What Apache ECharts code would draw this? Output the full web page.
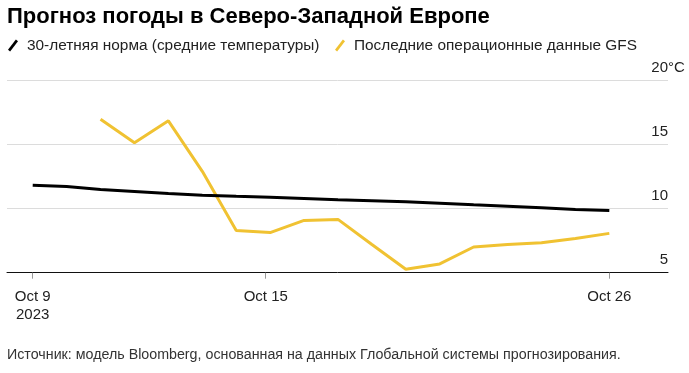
<!DOCTYPE html>
<html>
<head>
<meta charset="utf-8">
<script src="https://cdn.jsdelivr.net/npm/echarts@6/dist/echarts.min.js"></script>
<style>
html,body{margin:0;padding:0;background:#fff;}
#chart{width:689px;height:373px;}
</style>
</head>
<body>
<div id="chart"></div>
<script>
// ---- data ----
const dates = ['Oct 9','Oct 10','Oct 11','Oct 12','Oct 13','Oct 14','Oct 15','Oct 16','Oct 17',
  'Oct 18','Oct 19','Oct 20','Oct 21','Oct 22','Oct 23','Oct 24','Oct 25','Oct 26'];
const normalTemps = [11.81, 11.71, 11.47, 11.32, 11.16, 11.03, 10.95, 10.88, 10.78,
  10.67, 10.60, 10.52, 10.41, 10.29, 10.18, 10.05, 9.92, 9.84];
const gfsTemps = [null, null, 16.95, 15.12, 16.82, 12.89, 8.29, 8.12, 9.07,
  9.15, 7.2, 5.27, 5.68, 7.0, 7.19, 7.34, 7.67, 8.06];
const xTickDays = [0, 6.87, 17];
const xTickLabels = ['Oct 9\n2023', 'Oct 15', 'Oct 26'];
const yTicks = [5, 10, 15, 20];
const seriesNames = ['30-летняя норма (средние температуры)', 'Последние операционные данные GFS'];
const titleText = 'Прогноз погоды в Северо-Западной Европе';
const sourceText = 'Источник: модель Bloomberg, основанная на данных Глобальной системы прогнозирования.';

const FONT = '"Liberation Sans", Arial, sans-serif';
const toPairs = arr => arr.map((v, i) => [i, v]);
const slash = 'path://M0,11 L8.5,0 L10.8,1.8 L2.3,12.8 Z';

const chart = echarts.init(document.getElementById('chart'), null, {renderer: 'canvas'});
chart.setOption({
  animation: false,
  backgroundColor: '#fff',
  textStyle: {fontFamily: FONT},
  title: [
    {text: titleText, left: 2, top: 1,
     textStyle: {fontSize: 22, fontWeight: 'bold', color: '#000', fontFamily: FONT}},
    {text: sourceText, left: 2, top: 343,
     textStyle: {fontSize: 14.25, fontWeight: 'normal', color: '#333', fontFamily: FONT}}
  ],
  legend: [
    {data: [seriesNames[0]], left: 8, top: 38, icon: slash, itemWidth: 10, itemHeight: 12,
     itemGap: 0, padding: 0, textStyle: {fontSize: 15.4, color: '#222', padding: [0,0,0,4]}},
    {data: [seriesNames[1]], left: 335, top: 38, icon: slash, itemWidth: 10, itemHeight: 12,
     itemGap: 0, padding: 0, textStyle: {fontSize: 15.4, color: '#222', padding: [0,0,0,4]}}
  ],
  grid: {left: 7, right: 21, top: 80, bottom: 100.3, containLabel: false},
  xAxis: {
    type: 'value',
    min: -0.758,
    max: 18.73,
    splitLine: {show: false},
    axisLine: {show: true, lineStyle: {color: '#111', width: 1}},
    axisTick: {show: true, customValues: xTickDays, length: 6, lineStyle: {color: '#999', width: 1}},
    axisLabel: {
      customValues: xTickDays,
      margin: 15,
      fontSize: 15,
      lineHeight: 18,
      color: '#222',
      formatter: v => {
        const i = xTickDays.findIndex(d => Math.abs(d - v) < 1e-6);
        return i >= 0 ? xTickLabels[i] : '';
      }
    }
  },
  yAxis: {
    type: 'value',
    position: 'right',
    min: 5,
    max: 20,
    interval: 5,
    axisLine: {show: false},
    axisTick: {show: false},
    splitLine: {show: true, lineStyle: {color: '#dcdcdc', width: 1}},
    axisLabel: {
      inside: false,
      margin: 17,
      align: 'right',
      verticalAlign: 'bottom',
      padding: [0, 0, 5, 0],
      fontSize: 15,
      color: '#222',
      formatter: v => v === yTicks[yTicks.length - 1] ? v + '{u|°C}' : v + '{s|}',
      rich: {
        u: {fontSize: 15, color: '#222', width: 17, align: 'left'},
        s: {width: 17}
      }
    }
  },
  series: [
    {name: seriesNames[0], type: 'line', data: toPairs(normalTemps), showSymbol: false, symbol: 'none',
     color: '#000', lineStyle: {color: '#000', width: 3}, z: 3},
    {name: seriesNames[1], type: 'line', data: toPairs(gfsTemps), showSymbol: false, symbol: 'none',
     color: '#f0c232', lineStyle: {color: '#f0c232', width: 3}, z: 2}
  ]
});
</script>
</body>
</html>
